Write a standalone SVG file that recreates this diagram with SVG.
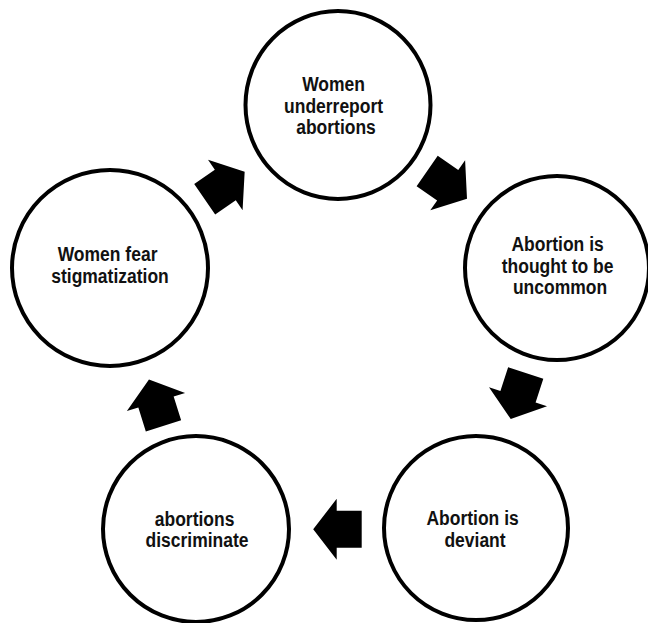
<svg xmlns="http://www.w3.org/2000/svg" xmlns:xlink="http://www.w3.org/1999/xlink" width="648" height="623" viewBox="0 0 648 623">
  <style>
    .node { fill: #ffffff; stroke: #000000; stroke-width: 4; }
    .label { font-family: "Liberation Sans", Arial, sans-serif; font-weight: bold; font-size: 17.5px; fill: #111111; text-anchor: middle; }
    .arrow { fill: #000000; }
  </style>
  <defs>
    <!-- block arrow pointing along +x, origin at the base of the head -->
    <polygon id="blockArrow" points="-25,-18.5 0,-18.5 0,-30.5 23.5,0 0,30.5 0,18.5 -25,18.5"/>
  </defs>
  <rect width="648" height="623" fill="#ffffff"/>

  <g id="connectors" class="arrow">
    <use xlink:href="#blockArrow" href="#blockArrow" transform="translate(225.3,185) rotate(-34.5)"/>
    <use xlink:href="#blockArrow" href="#blockArrow" transform="translate(447.7,185.3) rotate(34.8)"/>
    <use xlink:href="#blockArrow" href="#blockArrow" transform="translate(518,396.7) rotate(108)"/>
    <use xlink:href="#blockArrow" href="#blockArrow" transform="translate(336.7,529.3) rotate(180)"/>
    <use xlink:href="#blockArrow" href="#blockArrow" transform="translate(156,402) rotate(252.6)"/>
  </g>

  <g id="node-underreport">
    <ellipse class="node" cx="338" cy="105" rx="92.5" ry="94"/>
    <text class="label" transform="translate(336,90.7) scale(1,1.15)">
      <tspan x="0" y="0">Women</tspan>
      <tspan x="0" y="19">underreport</tspan>
      <tspan x="0" y="38">abortions</tspan>
    </text>
  </g>

  <g id="node-uncommon">
    <circle class="node" cx="557" cy="268" r="92"/>
    <text class="label" transform="translate(560,250.7) scale(1,1.15)">
      <tspan x="0" y="0">Abortion is</tspan>
      <tspan x="0" y="19">thought to be</tspan>
      <tspan x="0" y="38">uncommon</tspan>
    </text>
  </g>

  <g id="node-deviant">
    <circle class="node" cx="476" cy="528" r="92"/>
    <text class="label" transform="translate(475,525) scale(1,1.15)">
      <tspan x="0" y="0">Abortion is</tspan>
      <tspan x="0" y="19.5">deviant</tspan>
    </text>
  </g>

  <g id="node-discriminate">
    <circle class="node" cx="196" cy="529" r="93"/>
    <text class="label" transform="translate(197,526) scale(1,1.15)">
      <tspan x="0" y="0">abortions</tspan>
      <tspan x="0" y="18.5">discriminate</tspan>
    </text>
  </g>

  <g id="node-stigmatization">
    <circle class="node" cx="110" cy="268" r="98"/>
    <text class="label" transform="translate(110,260.7) scale(1,1.15)">
      <tspan x="0" y="0">Women fear</tspan>
      <tspan x="0" y="19.5">stigmatization</tspan>
    </text>
  </g>
</svg>
